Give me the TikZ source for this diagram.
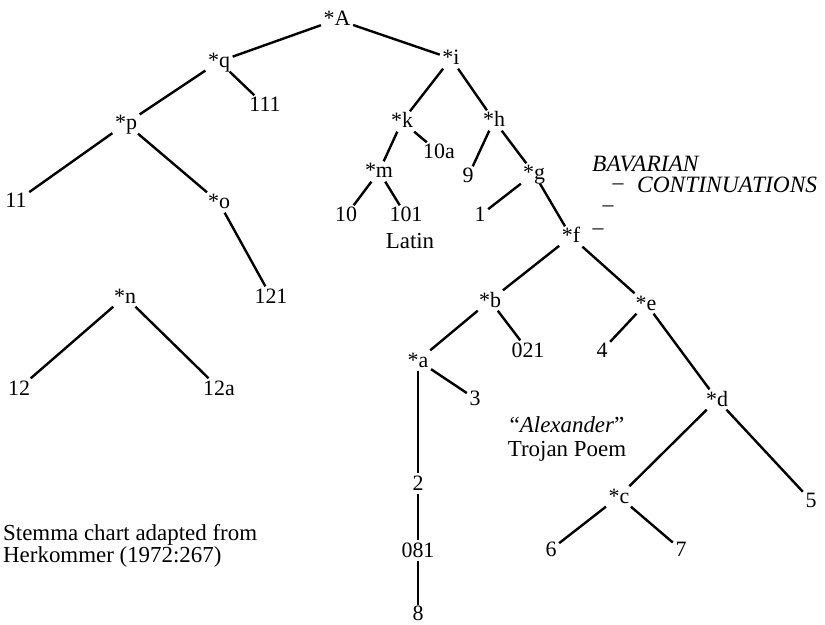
\documentclass[tikz,border=0pt]{standalone}
\usepackage{fontspec}
\setmainfont{Liberation Serif}
\begin{document}
\begin{tikzpicture}[x=1bp,y=-1bp,
  lab/.style={anchor=base,inner sep=2.5bp,font=\fontsize{22}{24}\selectfont,text height=14bp,text depth=1bp},
  txt/.style={anchor=base,inner sep=0pt,font=\fontsize{23}{26}\selectfont},
  itx/.style={anchor=base west,inner sep=0pt,font=\fontsize{23.5}{26}\selectfont\itshape},
  dsh/.style={anchor=base,inner sep=0pt,font=\fontsize{22}{26}\selectfont,text height=6.5bp,text depth=0bp},
  edge/.style={line width=2.4bp}]
\useasboundingbox (0,0) rectangle (825,625);
% nodes
\node[lab] (A) at (337,26) {*A};
\node[lab] (q) at (219,68) {*q};
\node[lab] (n111) at (265,112) {111};
\node[lab] (p) at (126,130) {*p};
\node[lab] (n11) at (16,208) {11};
\node[lab] (o) at (219,209) {*o};
\node[lab] (n121) at (271,303) {121};
\node[lab] (n) at (125,303) {*n};
\node[lab] (n12) at (19,395) {12};
\node[lab] (n12a) at (219,395) {12a};
\node[lab] (i) at (451,65) {*i};
\node[lab] (k) at (402,128) {*k};
\node[lab] (n10a) at (439,159) {10a};
\node[lab] (h) at (494,127) {*h};
\node[lab] (m) at (379,178) {*m};
\node[lab] (n10) at (346,222) {10};
\node[lab] (n101) at (406,222) {101};
\node[lab] (n9) at (468,183) {9};
\node[lab] (g) at (534,180) {*g};
\node[lab] (n1) at (480,222) {1};
\node[lab] (f) at (571,243) {*f};
\node[lab] (b) at (490,307) {*b};
\node[lab] (n021) at (528,357) {021};
\node[lab] (e) at (646,310) {*e};
\node[lab] (n4) at (602,357) {4};
\node[lab] (a) at (418,367) {*a};
\node[lab] (n3) at (475,405) {3};
\node[lab] (d) at (717,406) {*d};
\node[lab] (n2) at (418,490) {2};
\node[lab] (n081) at (418,557) {081};
\node[lab,inner sep=1bp] (n8) at (418,620) {8};
\node[lab] (c) at (619,503) {*c};
\node[lab] (n5) at (811,507) {5};
\node[lab] (n6) at (551,556) {6};
\node[lab] (n7) at (681,556) {7};
% texts
\node[txt] (latin) at (410,248) {Latin};
\node[txt] (alex) at (567,432) {``\textit{Alexander}''};
\node[txt] (troj) at (567,456) {Trojan Poem};
\node[txt,anchor=base west] (stem1) at (3,540) {Stemma chart adapted from};
\node[txt,anchor=base west] (stem2) at (3,562) {Herkommer (1972:267)};
\node[itx] (bav) at (592,172) {BAVARIAN};
\node[itx] (cont) at (637,193) {CONTINUATIONS};
\node[dsh] (d1) at (618,190) {–};
\node[dsh] (d2) at (608,212) {–};
\node[dsh] (d3) at (598,235) {–};
% edges
\draw[edge] (A) -- (q);
\draw[edge] (A) -- (i);
\draw[edge] (q) -- (p);
\draw[edge] (q) -- (n111);
\draw[edge] (p) -- (n11);
\draw[edge] (p) -- (o);
\draw[edge] (o) -- (n121);
\draw[edge] (n) -- (n12);
\draw[edge] (n) -- (n12a);
\draw[edge] (i) -- (k);
\draw[edge] (i) -- (h);
\draw[edge] (k) -- (m);
\draw[edge] (k) -- (n10a);
\draw[edge] (m) -- (n10);
\draw[edge] (m) -- (n101);
\draw[edge] (h) -- (n9);
\draw[edge] (h) -- (g);
\draw[edge] (g) -- (n1);
\draw[edge] (g) -- (f);
\draw[edge] (f) -- (b);
\draw[edge] (f) -- (e);
\draw[edge] (b) -- (a);
\draw[edge] (b) -- (n021);
\draw[edge] (a) -- (n3);
\draw[edge] (a) -- (n2);
\draw[edge] (n2) -- (n081);
\draw[edge] (n081) -- (n8);
\draw[edge] (e) -- (n4);
\draw[edge] (e) -- (d);
\draw[edge] (d) -- (c);
\draw[edge] (d) -- (n5);
\draw[edge] (c) -- (n6);
\draw[edge] (c) -- (n7);
\end{tikzpicture}
\end{document}
